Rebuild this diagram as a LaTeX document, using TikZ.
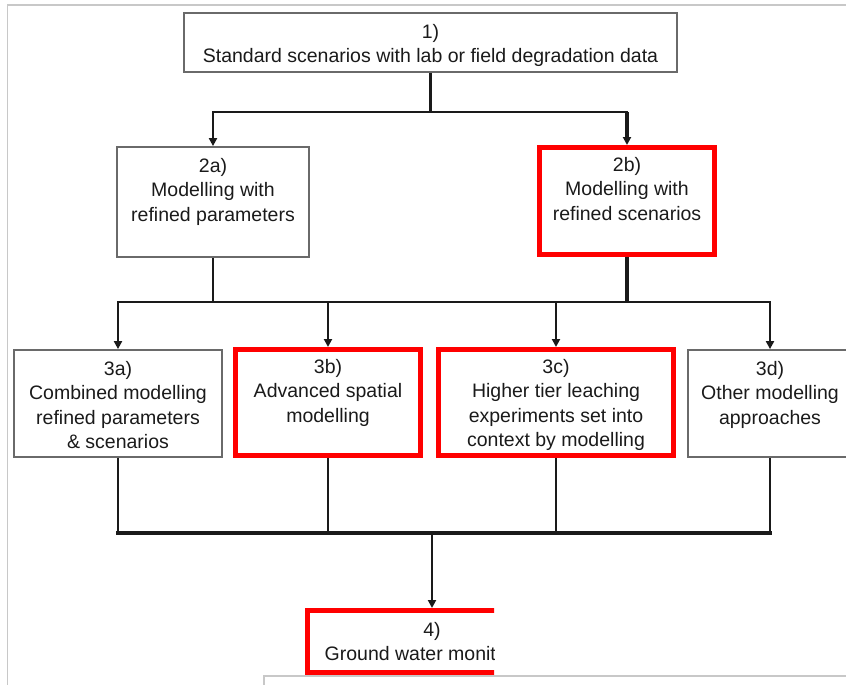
\documentclass[tikz,border=0pt]{standalone}
\usepackage{fontspec}
\setmainfont{Liberation Sans}
\usetikzlibrary{arrows.meta}

\definecolor{boxgray}{HTML}{6A6A6A}
\definecolor{framegray}{HTML}{C8C8C8}
\definecolor{tierred}{HTML}{FF0000}
\definecolor{inkgray}{HTML}{1A1A1A}

\begin{document}
\begin{tikzpicture}[x=1pt,y=-1pt,
  box/.style={draw=boxgray, line width=1.8pt, inner sep=0pt},
  redbox/.style={draw=tierred, line width=5pt, inner sep=0pt},
  stagetext/.style={anchor=north, align=center, inner sep=0pt, text=inkgray,
    font=\fontsize{19.5}{24.5}\selectfont, yshift=-12pt},
  link/.style={line width=2.8pt, inkgray},
  arr/.style={link, -{Triangle[length=8pt,width=8pt]}}]
  % Page and clipping
  \useasboundingbox (0,0) rectangle (846,685);
  \clip (0,0) rectangle (846,685);

  % Screenshot frame
  \draw[framegray, line width=1.5pt] (846,5) -- (7.5,5) -- (7.5,685);
  \draw[framegray, line width=1.2pt] (264,685) -- (264,676) -- (846,676);

  % Tier 1
  \node[box, minimum width=493pt, minimum height=59pt] (b1) at (430.5,42.5) {};
  \node[stagetext] (t1) at (b1.north) {1)\\Standard scenarios with lab or field degradation data};

  % Tier 2
  \node[box, minimum width=192pt, minimum height=110pt] (b2a) at (213,202) {};
  \node[stagetext] (t2a) at (b2a.north) {2a)\\Modelling with\\refined parameters};
  \node[redbox, minimum width=175pt, minimum height=107pt] (b2b) at (627,201) {};
  \node[stagetext] (t2b) at (b2b.north) {2b)\\Modelling with\\refined scenarios};

  % Tier 3
  \node[box, minimum width=208pt, minimum height=107pt] (b3a) at (118,403.5) {};
  \node[stagetext] (t3a) at (b3a.north) {3a)\\Combined modelling\\refined parameters\\\& scenarios};
  \node[redbox, minimum width=185pt, minimum height=106pt] (b3b) at (328,402.5) {};
  \node[stagetext] (t3b) at (b3b.north) {3b)\\Advanced spatial\\modelling};
  \node[redbox, minimum width=235pt, minimum height=106pt] (b3c) at (556,402.5) {};
  \node[stagetext] (t3c) at (b3c.north) {3c)\\Higher tier leaching\\experiments set into\\context by modelling};
  \node[box, minimum width=164pt, minimum height=107pt] (b3d) at (770,403.5) {};
  \node[stagetext] (t3d) at (b3d.north) {3d)\\Other modelling\\approaches};

  % Tier 4 (cut off by the screenshot)
  \begin{scope}
    \clip (0,590) rectangle (494,685);
    \node[redbox, minimum width=249pt, minimum height=62pt] (b4) at (432,641.5) {};
    \node[stagetext, yshift=-2pt] (t4) at (b4.north) {4)\\Ground water monitoring};
  \end{scope}

  % Bus lines
  \coordinate (bus1) at (0,112);
  \coordinate (bus2) at (0,302);
  \coordinate (bus3) at (0,533);

  % 1 -> 2
  \draw[link] (b1.south) -- (b1.south |- bus1);
  \draw[link, line cap=rect] (b2a |- bus1) -- (b2b |- bus1);
  \draw[arr] (b2a |- bus1) -- (b2a.north);
  \draw[arr, line width=3.4pt] (b2b |- bus1) -- (b2b.north);

  % 2 -> 3
  \draw[link] (b2a.south) -- (b2a |- bus2);
  \draw[link, line width=3.4pt] (b2b.south) -- (b2b |- bus2);
  \draw[link, line cap=rect] (b3a |- bus2) -- (b3d |- bus2);
  \foreach \n in {b3a,b3b,b3c,b3d}
    \draw[arr] (\n |- bus2) -- (\n.north);

  % 3 -> 4
  \foreach \n in {b3a,b3b,b3c,b3d}
    \draw[link] (\n.south) -- (\n |- bus3);
  \draw[link, line width=4pt, line cap=rect] (b3a |- bus3) -- (b3d |- bus3);
  \draw[arr] (b4 |- bus3) -- (b4.north);
\end{tikzpicture}
\end{document}
